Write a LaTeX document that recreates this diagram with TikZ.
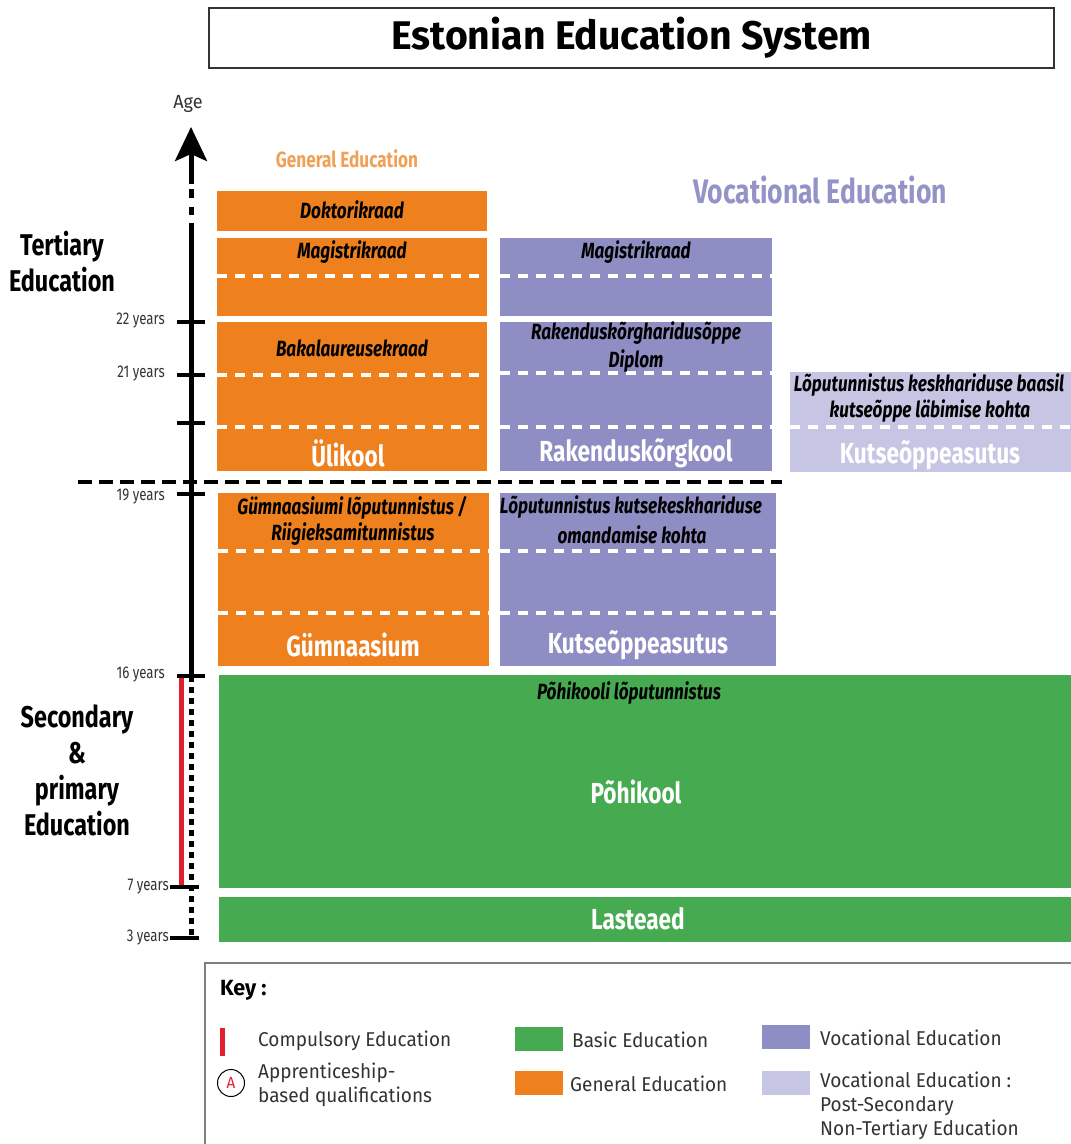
\documentclass[tikz,border=0pt]{standalone}
\usepackage{fontspec}
\usetikzlibrary{arrows.meta}
\newfontfamily\cond[FakeStretch=0.78]{Fira Sans}
\newfontfamily\keyf[FakeStretch=0.95]{Fira Sans}
\newfontfamily\titlef[FakeStretch=0.98]{Fira Sans}
\definecolor{orC}{HTML}{EE801E}
\definecolor{puC}{HTML}{8E8EC4}
\definecolor{lpC}{HTML}{C6C6E4}
\definecolor{grC}{HTML}{46AB50}
\definecolor{orT}{HTML}{F0A155}
\definecolor{puT}{HTML}{9393C8}
\definecolor{rdC}{HTML}{E0202F}
\definecolor{txC}{HTML}{333333}
\tikzset{
  blk/.style={inner sep=0pt, outer sep=0pt, anchor=north west},
  dlab/.style={inner sep=0pt, text=black, font=\cond\bfseries\itshape\fontsize{22}{24}\selectfont},
  wlab/.style={inner sep=0pt, text=white, font=\cond\bfseries\fontsize{29}{32}\selectfont},
  wdash/.style={draw=white, line width=3.5pt, dash pattern=on 10pt off 8pt},
  ylab/.style={inner sep=0pt, anchor=east, text=txC, font=\cond\fontsize{17}{19}\selectfont},
  sidelab/.style={inner sep=0pt, text=black, font=\cond\bfseries\fontsize{30}{36}\selectfont, align=center},
  keylab/.style={inner sep=0pt, anchor=west, text=txC, font=\keyf\fontsize{20}{24}\selectfont, align=left},
  tick/.style={line width=4pt},
  axisline/.style={line width=5pt},
}
\begin{document}
\begin{tikzpicture}[x=1pt, y=-1pt]
\useasboundingbox (0,0) rectangle (1071,1144);

% title
\node[draw=txC, line width=1.5pt, minimum width=845pt, minimum height=60pt, inner sep=0pt,
      font=\titlef\bfseries\fontsize{40}{42}\selectfont] (title) at (631.5,38) {Estonian Education System};

% column headers
\node[inner sep=0pt, text=orT, font=\cond\bfseries\fontsize{22}{24}\selectfont] (genhead) at (347,159) {General Education};
\node[inner sep=0pt, text=puT, font=\cond\bfseries\fontsize{34}{36}\selectfont] (vochead) at (820,190) {Vocational Education};

% ---------------- general (orange) ----------------
\node[blk, fill=orC, minimum width=270pt, minimum height=40pt] (dok) at (217,191) {};
\node[dlab] (dokT) at (352,210) {Doktorikraad};

\node[blk, fill=orC, minimum width=270pt, minimum height=78pt] (magO) at (217,238) {};
\draw[wdash] (217,276) -- (487,276);
\node[dlab] (magOT) at (352,252) {Magistrikraad};

\node[blk, fill=orC, minimum width=270pt, minimum height=149pt] (bak) at (217,322) {};
\draw[wdash] (217,375) -- (487,375);
\draw[wdash] (217,427) -- (487,427);
\node[dlab] (bakT) at (352,348) {Bakalaureusekraad};
\node[wlab] (ulik) at (348,453) {Ülikool};

\node[blk, fill=orC, minimum width=271pt, minimum height=173pt] (gym) at (218,493) {};
\draw[wdash] (218,551) -- (489,551);
\draw[wdash] (218,613) -- (489,613);
\node[dlab] (gymT1) at (352,508) {Gümnaasiumi lõputunnistus /};
\node[dlab] (gymT2) at (353,534) {Riigieksamitunnistus};
\node[wlab] (gymW) at (353,645) {Gümnaasium};

% ---------------- vocational (purple) ----------------
\node[blk, fill=puC, minimum width=272pt, minimum height=78pt] (magP) at (500,238) {};
\draw[wdash] (500,276) -- (772,276);
\node[dlab] (magPT) at (636,252) {Magistrikraad};

\node[blk, fill=puC, minimum width=272pt, minimum height=149pt] (rak) at (500,322) {};
\draw[wdash] (500,373) -- (772,373);
\draw[wdash] (500,427) -- (772,427);
\node[dlab] (rakT1) at (636,333) {Rakenduskõrgharidusõppe};
\node[dlab] (rakT2) at (636,361) {Diplom};
\node[wlab] (rakW) at (636,453) {Rakenduskõrgkool};

\node[blk, fill=puC, minimum width=276pt, minimum height=173pt] (kut) at (500,493) {};
\draw[wdash] (500,551) -- (776,551);
\draw[wdash] (500,613) -- (776,613);
\node[dlab] (kutT1) at (631,507) {Lõputunnistus kutsekeskhariduse};
\node[dlab] (kutT2) at (632,535) {omandamise kohta};
\node[wlab] (kutW) at (638,645) {Kutseõppeasutus};

% ---------------- post-secondary (light purple) ----------------
\node[blk, fill=lpC, minimum width=281pt, minimum height=100pt] (post) at (790,372) {};
\draw[wdash] (790,427) -- (1071,427);
\node[dlab] (postT1) at (929,385) {Lõputunnistus keskhariduse baasil};
\node[dlab] (postT2) at (930,411) {kutseõppe läbimise kohta};
\node[wlab] (postW) at (930,455) {Kutseõppeasutus};

% ---------------- basic (green) ----------------
\node[blk, fill=grC, minimum width=852pt, minimum height=213pt] (pohi) at (219,675) {};
\node[dlab] (pohiT) at (629,693) {Põhikooli lõputunnistus};
\node[wlab] (pohiW) at (636,792) {Põhikool};

\node[blk, fill=grC, minimum width=852pt, minimum height=45pt] (last) at (219,897) {};
\node[wlab] (lastW) at (638,919) {Lasteaed};

% ---------------- tertiary divider ----------------
\coordinate (divL) at (78,482);
\coordinate (divR) at (782,482);
\draw[line width=4pt, dash pattern=on 14pt off 7pt] (divL) -- (divR);

% ---------------- age axis ----------------
\coordinate (aTip) at (191,127);
\coordinate (aBase) at (191,184);
\coordinate (aD1a) at (191,189);
\coordinate (aD1b) at (191,198);
\coordinate (aD2a) at (191,207);
\coordinate (aD2b) at (191,215);
\coordinate (aSol) at (191,223);
\coordinate (a16) at (191,676);
\coordinate (a3) at (191,938);
\draw[axisline, -{Stealth[length=34pt, width=32pt, inset=7pt]}] (aBase) -- (aTip);
\draw[axisline] (aD1a) -- (aD1b);
\draw[axisline] (aD2a) -- (aD2b);
\draw[axisline] (aSol) -- (a16);
\draw[axisline, dash pattern=on 6pt off 5pt] (a16) -- (a3);
\node[inner sep=0pt, text=txC, font=\keyf\fontsize{19}{21}\selectfont] (age) at (188,104) {Age};

% compulsory red bar
\coordinate (r16) at (181,676);
\coordinate (r7) at (181,887);
\draw[line width=5pt, rdC] (r16) -- (r7);

% ticks
\foreach \yy/\nm in {322/t22, 375/t21, 423/t20, 494/t19, 676/t16} {
  \coordinate (\nm L) at (177,\yy);
  \coordinate (\nm R) at (205,\yy);
  \draw[tick] (\nm L) -- (\nm R);
}
\foreach \yy/\nm in {887/t7, 938/t3} {
  \coordinate (\nm L) at (170,\yy);
  \coordinate (\nm R) at (199,\yy);
  \draw[tick] (\nm L) -- (\nm R);
}
\node[ylab] (y22) at (165,321) {22 years};
\node[ylab] (y21) at (165,374) {21 years};
\node[ylab] (y19) at (165,497) {19 years};
\node[ylab] (y16) at (165,675) {16 years};
\node[ylab] (y7) at (169,887) {7 years};
\node[ylab] (y3) at (169,938) {3 years};

% side labels
\node[sidelab] (tert) at (62,262) {Tertiary\\Education};
\node[sidelab] (sec) at (77,770) {Secondary\\\&\\primary\\Education};

% ---------------- key ----------------
\coordinate (kTR) at (1071,963);
\coordinate (kTL) at (205,963);
\coordinate (kBL) at (205,1144);
\draw[draw=gray, line width=2pt] (kTR) -- (kTL) -- (kBL);
\node[inner sep=0pt, anchor=west, font=\titlef\bfseries\fontsize{22}{24}\selectfont] (keyT) at (220,990) {Key :};

\coordinate (kr1) at (222,1028);
\coordinate (kr2) at (222,1056);
\draw[line width=5pt, rdC] (kr1) -- (kr2);
\node[keylab] (kComp) at (258,1041) {Compulsory Education};

\node[draw=black, line width=1pt, circle, minimum size=27pt, inner sep=0pt, text=rdC,
      font=\keyf\fontsize{16}{18}\selectfont] (kA) at (231,1083) {A};
\node[keylab] (kApp) at (258,1085) {Apprenticeship-\\based qualifications};

\node[blk, fill=grC, minimum width=48pt, minimum height=24pt] (swG) at (515,1027) {};
\node[keylab] (kBasic) at (572,1040) {Basic Education};
\node[blk, fill=orC, minimum width=48pt, minimum height=24pt] (swO) at (515,1071) {};
\node[keylab] (kGen) at (570,1084) {General Education};
\node[blk, fill=puC, minimum width=48pt, minimum height=24pt] (swP) at (762,1025) {};
\node[keylab] (kVoc) at (820,1038) {Vocational Education};
\node[blk, fill=lpC, minimum width=48pt, minimum height=24pt] (swL) at (762,1071) {};
\node[keylab] (kPost) at (820,1106) {Vocational Education :\\Post-Secondary\\Non-Tertiary Education};

\end{tikzpicture}
\end{document}
